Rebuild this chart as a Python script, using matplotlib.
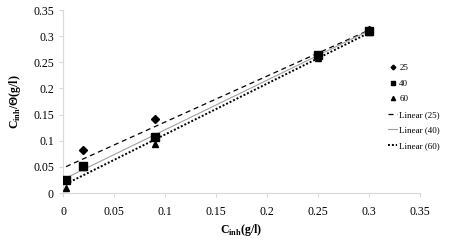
import numpy as np
import matplotlib
matplotlib.use('Agg')
from matplotlib import pyplot as plt

# inhibitor concentration (g/l) and C/theta values at three temperatures
conc = [0.003, 0.02, 0.09, 0.25, 0.3]
c25 = [0.025, 0.083, 0.141, 0.262, 0.311]
c40 = [0.025, 0.052, 0.107, 0.265, 0.310]
c60 = [0.009, 0.050, 0.093, 0.258, 0.308]
ticks = [0, 0.05, 0.1, 0.15, 0.2, 0.25, 0.3, 0.35]
tick_labels = ['0', '0.05', '0.1', '0.15', '0.2', '0.25', '0.3', '0.35']

plt.rcParams['font.family'] = ['Liberation Serif', 'DejaVu Serif']
plt.rcParams['mathtext.fontset'] = 'custom'
plt.rcParams['mathtext.rm'] = 'Liberation Serif'
plt.rcParams['mathtext.bf'] = 'Liberation Serif:bold'

fig = plt.figure(figsize=(4.5, 2.52), dpi=100)
ax = fig.add_axes([0.14, 0.234, 0.793, 0.726])

x = np.array(conc)
ax.plot(x, c25, 'D', color='black', ms=4, label='25', zorder=3)
ax.plot(x, c40, 's', color='black', ms=5.5, label='40', zorder=3)
ax.plot(x, c60, '^', color='black', ms=5, label='60', zorder=3)

styles = [(c25, dict(ls=(0, (4, 3)), color='black', lw=0.9), 'Linear (25)'),
          (c40, dict(ls='-', color='#a0a0a0', lw=0.8), 'Linear (40)'),
          (c60, dict(ls=(0, (1, 1)), color='black', lw=1.4), 'Linear (60)')]
for ys, st, lab in styles:
    k, b = np.polyfit(x, ys, 1)
    ax.plot([x[0], x[-1]], [k * x[0] + b, k * x[-1] + b], label=lab, zorder=2, **st)

ax.set_xlim(0, 0.35)
ax.set_ylim(0, 0.35)
ax.set_xticks(ticks)
ax.set_xticklabels(tick_labels)
ax.set_yticks(ticks)
ax.set_yticklabels(tick_labels)
for s in ['top', 'right']:
    ax.spines[s].set_visible(False)
for s in ['left', 'bottom']:
    ax.spines[s].set_color('#d9d9d9')
    ax.spines[s].set_linewidth(0.8)
ax.tick_params(colors='#d9d9d9', labelcolor='black', labelsize=8.5, length=3, width=0.8)
ax.tick_params(axis='x', pad=6)

ax.set_xlabel(r'C$_{\mathbf{inh}}$(g/l)', fontsize=8.5, fontweight='bold', labelpad=3)
ax.set_ylabel(r'C$_{\mathbf{inh}}$/Θ(g/l)', fontsize=8.5, fontweight='bold', labelpad=7)

leg = ax.legend(loc='center left', bbox_to_anchor=(0.845, 0.575), bbox_transform=fig.transFigure,
                frameon=False, fontsize=6.5, handlelength=1.0, handletextpad=0.2,
                labelspacing=0.8, markerscale=0.6)

fig.savefig('out.png', dpi=100)
